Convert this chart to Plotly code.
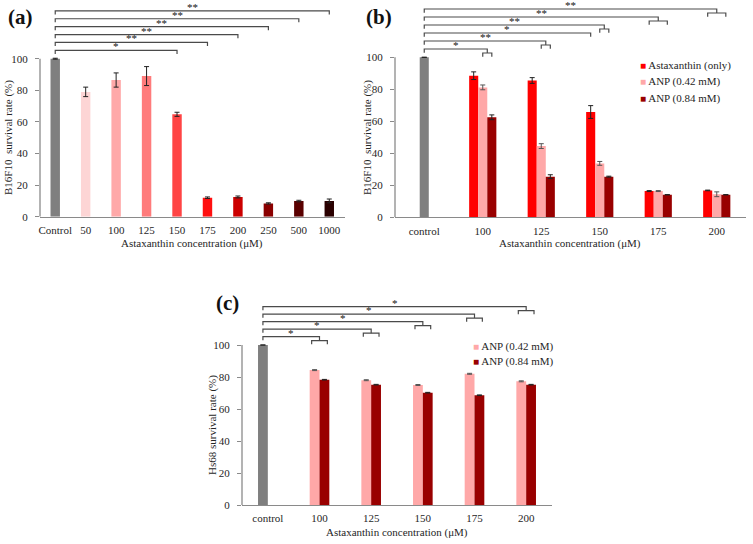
import plotly.graph_objects as go

# ---------------- data ----------------
cats_a = ["Control", "50", "100", "125", "150", "175", "200", "250", "500", "1000"]
surv_a = [100, 79, 86.5, 89, 64.8, 12, 12.5, 8.4, 9.9, 10]
err_a = [0.3, 3, 4.5, 6, 1.3, 0.5, 0.6, 0.4, 0.5, 1.2]
colors_a = ["#7f7f7f", "#fdd5d5", "#ffa9a9", "#ff7b7b", "#ff4444", "#ff1010",
            "#cc0000", "#8b0000", "#5a0000", "#2a0000"]
sig_a_targets = [4, 5, 6, 7, 8, 9]
sig_a_labels = ["*", "**", "**", "**", "**", "**"]

cats_b = ["control", "100", "125", "150", "175", "200"]
control_b = 100
asta_only_b = [88.5, 85.5, 65.8, 16.4, 16.8]
asta_only_err_b = [2.4, 1.8, 4.0, 0.3, 0.2]
anp042_b = [81.2, 44.5, 33.7, 16.4, 14.4]
anp042_err_b = [1.5, 1.5, 1.2, 0.3, 1.5]
anp084_b = [62.5, 25.4, 25.4, 14.1, 14.1]
anp084_err_b = [1.5, 1.2, 0.3, 0.1, 0.1]
sig_b_groups = [1, 2, 3, 3, 4, 5]
sig_b_spans = ["anp", "anp", "red", "anp", "all", "all"]
sig_b_labels = ["*", "**", "*", "**", "**", "**"]

cats_c = ["control", "100", "125", "150", "175", "200"]
control_c = 100
anp042_c = [84.3, 78, 75, 82, 77.3]
anp042_err_c = [0.3, 0.3, 0.3, 0.3, 0.3]
anp084_c = [78.3, 75.2, 70.2, 68.6, 75.2]
anp084_err_c = [0.2, 0.2, 0.2, 0.2, 0.2]
sig_c_groups = [1, 2, 3, 4, 5]
sig_c_labels = ["*", "*", "*", "*", "*"]

names = ["Astaxanthin (only)", "ANP (0.42 mM)", "ANP (0.84 mM)"]

# ---------------- styles ----------------
W, H = 753, 544
FONT = "Liberation Serif, Times New Roman, serif"
TXT = "#262626"
AX = "#8a8a8a"
BR = "#4a4a4a"
GRAY = "#7f7f7f"
RED, PINK, DARK = "#ff0000", "#ffa8a8", "#990000"


def px(x):
    return x / W


def py(y):
    return min(1.0, max(0.0, 1 - y / H))


fig = go.Figure()
ERR = dict(type="data", color="#222222", thickness=1, width=2.5, visible=True)


def bar(x, y, err, color, width, offset, xa, ya, errcolor="#222222"):
    e = dict(ERR)
    e["array"] = err
    e["color"] = errcolor
    fig.add_trace(go.Bar(x=x, y=y, width=width, offset=offset,
                         marker=dict(color=color, line=dict(width=0)),
                         error_y=e, xaxis=xa, yaxis=ya, showlegend=False,
                         hoverinfo="skip"))


def bracket(xl, level, end, drop=2.5, tick=2.3):
    xs = [xl, xl]
    ys = [level - tick, level]
    if end[0] == "single":
        xr = end[1]
        xs += [xr, xr, None]
        ys += [level, level - tick, None]
    else:
        s0, s1 = end[1], end[2]
        xm = (s0 + s1) / 2
        xs += [xm, xm, None, s0, s0, s1, s1, None]
        ys += [level, level - drop, None, level - drop - tick, level - drop,
               level - drop, level - drop - tick, None]
    return xs, ys


annots = []


def star(xl, xr, level, text, xa, ya):
    annots.append(dict(x=(xl + xr) / 2, y=level, xref=xa, yref=ya, text=text,
                       showarrow=False, xanchor="center", yanchor="bottom", yshift=-4,
                       font=dict(family=FONT, size=11, color="#111111")))


# ---------------- panel a ----------------
wa = 0.31
bar(list(range(len(cats_a))), surv_a, err_a, colors_a, wa, -wa / 2, "x", "y")
bx, by = [], []
for k, (t, lab) in enumerate(zip(sig_a_targets, sig_a_labels)):
    L = 105.3 + 5 * k
    xs, ys = bracket(0, L, ("single", t))
    bx += xs
    by += ys
    star(0, t, L, lab, "x", "y")
fig.add_trace(go.Scatter(x=bx, y=by, mode="lines", line=dict(color=BR, width=1.2),
                         xaxis="x", yaxis="y", showlegend=False, hoverinfo="skip"))

# ---------------- panel b ----------------
wb = 0.155
gb = list(range(1, len(cats_b)))
bar([0], [control_b], [0], GRAY, wb, -wb / 2, "x2", "y2")
bar(gb, asta_only_b, asta_only_err_b, RED, wb, -1.5 * wb, "x2", "y2")
bar(gb, anp042_b, anp042_err_b, PINK, wb, -0.5 * wb, "x2", "y2", errcolor="#555555")
bar(gb, anp084_b, anp084_err_b, DARK, wb, 0.5 * wb, "x2", "y2")
bx, by = [], []
for k, (g, sp, lab) in enumerate(zip(sig_b_groups, sig_b_spans, sig_b_labels)):
    L = 105.2 + 5 * k
    if sp == "red":
        end = ("single", g - wb)
        xr = g - wb
    elif sp == "anp":
        end = ("span", g, g + wb)
        xr = g + wb / 2
    else:
        end = ("span", g - wb, g + wb)
        xr = g
    xs, ys = bracket(0, L, end)
    bx += xs
    by += ys
    star(0, xr, L, lab, "x2", "y2")
fig.add_trace(go.Scatter(x=bx, y=by, mode="lines", line=dict(color=BR, width=1.2),
                         xaxis="x2", yaxis="y2", showlegend=False, hoverinfo="skip"))

# ---------------- panel c ----------------
wc = 0.19
gc = list(range(1, len(cats_c)))
bar([0], [control_c], [0], GRAY, wc, -wc, "x3", "y3")
bar(gc, anp042_c, anp042_err_c, PINK, wc, -wc, "x3", "y3", errcolor="#555555")
bar(gc, anp084_c, anp084_err_c, DARK, wc, 0, "x3", "y3")
bx, by = [], []
for k, (g, lab) in enumerate(zip(sig_c_groups, sig_c_labels)):
    L = 105.2 + 4.7 * k
    s0, s1 = g - wc / 2 - 0.3 * wc, g + wc / 2 + 0.3 * wc
    xs, ys = bracket(-wc / 2, L, ("span", s0, s1))
    bx += xs
    by += ys
    star(-wc / 2, (s0 + s1) / 2, L, lab, "x3", "y3")
fig.add_trace(go.Scatter(x=bx, y=by, mode="lines", line=dict(color=BR, width=1.2),
                         xaxis="x3", yaxis="y3", showlegend=False, hoverinfo="skip"))

# ---------------- axes ----------------
tickfont = dict(family=FONT, size=11, color=TXT)


def xaxis(dom, cats):
    return dict(domain=[px(dom[0]), px(dom[1])], range=[-0.5, len(cats) - 0.5],
                tickvals=list(range(len(cats))), ticktext=cats, showline=True,
                linecolor=AX, linewidth=1.3, ticks="", showgrid=False, zeroline=False,
                tickfont=tickfont, fixedrange=True, automargin=False,
                ticklabelstandoff=3)


def yaxis(y0px, y100px, top, anchor):
    # y0px: pixel of value 0; y100px: pixel of value 100
    ppu = (y0px - y100px) / 100.0
    ytop = y0px - top * ppu
    return dict(domain=[py(y0px), py(ytop)], range=[0, top], anchor=anchor,
                tickvals=[0, 20, 40, 60, 80, 100], ticks="outside", ticklen=4,
                tickcolor=AX, showline=False, showgrid=False, zeroline=False,
                tickfont=tickfont, fixedrange=True, automargin=False,
                ticklabelstandoff=5)


fig.update_layout(
    width=W, height=H, margin=dict(l=0, r=0, t=0, b=0, pad=0),
    paper_bgcolor="white", plot_bgcolor="white", barmode="overlay",
    showlegend=False,
    xaxis=dict(xaxis((40, 344.5), cats_a), anchor="y"),
    yaxis=yaxis(216.7, 58.7, 135, "x"),
    xaxis2=dict(xaxis((395, 746), cats_b), anchor="y2"),
    yaxis2=yaxis(217.3, 57.3, 135, "x2"),
    xaxis3=dict(xaxis((242, 552), cats_c), anchor="y3"),
    yaxis3=yaxis(505, 345, 128, "x3"),
)

# y-axis lines (only up to 100)
for xr, yr in [("x", "y"), ("x2", "y2"), ("x3", "y3")]:
    fig.add_shape(type="line", xref=f"{xr} domain", yref=yr, x0=0, x1=0, y0=0, y1=100,
                  line=dict(color=AX, width=1.3))


def paper_text(xc, yc, text, font, angle=0):
    annots.append(dict(x=px(xc), y=py(yc), xref="paper", yref="paper", text=text,
                       textangle=angle, xanchor="center", yanchor="middle",
                       showarrow=False, font=font))


# titles
tfont = dict(family=FONT, size=11, color=TXT)
for xc, yc, t in [(192, 244, "Astaxanthin concentration (\u03bcM)"),
                  (570, 244, "Astaxanthin concentration (\u03bcM)"),
                  (397, 532, "Astaxanthin concentration (\u03bcM)")]:
    paper_text(xc, yc, t, tfont)
for xc, yc, t in [(8, 138, "B16F10  survival rate (%)"),
                  (367, 138, "B16F10  survival rate (%)"),
                  (212, 425, "Hs68 survival rate (%)")]:
    paper_text(xc, yc, t, tfont, angle=-90)
for xc, yc, t in [(20, 17, "(a)"), (379, 17, "(b)"), (227, 303, "(c)")]:
    paper_text(xc, yc, f"<b>{t}</b>", dict(family=FONT, size=21, color="#111111"))

# legends
lfont = dict(family=FONT, size=11, color=TXT)


def legend_item(xl, yc, name, col):
    annots.append(dict(x=px(xl), y=py(yc), xref="paper", yref="paper",
                       xanchor="left", yanchor="middle", showarrow=False, font=lfont,
                       text=f"<span style='color:{col};font-size:10px'>\u25a0</span> {name}"))


for i, (nm, col) in enumerate(zip(names, [RED, PINK, DARK])):
    legend_item(638, 65 + 16.5 * i, nm, col)
for i, (nm, col) in enumerate(zip(names[1:], [PINK, DARK])):
    legend_item(471, 346 + 15.5 * i, nm, col)

fig.update_layout(annotations=annots)
fig.write_html("out.html", config={"displayModeBar": False},
               post_script="document.body.style.margin='0';document.body.style.overflow='hidden';")
